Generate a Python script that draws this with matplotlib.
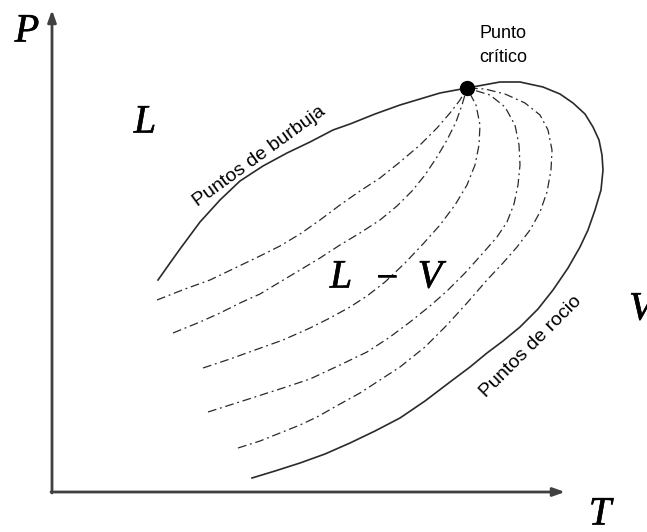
import matplotlib
matplotlib.use("Agg")
import matplotlib.pyplot as plt
import matplotlib.patheffects as pe

# Phase envelope (arbitrary units: T to the right, P upward)
bubble_T = [106, 118, 128, 148, 168, 188, 211, 235, 258, 281, 298, 323, 348, 368, 388, 415]
bubble_P = [212, 229, 243, 270, 292, 311, 326, 339, 350, 362, 368, 378, 387, 393, 399, 404]

dew_T = [415, 448, 468, 491, 508, 521, 533, 541, 547, 550, 551, 549, 543, 536, 528, 516, 501,
         486, 468, 451, 435, 418, 398, 373, 348, 323, 298, 273, 248, 223, 200]
dew_P = [404, 410, 410, 405, 398, 389, 378, 365, 352, 337, 322, 302, 282, 262, 245, 224, 202,
         183, 165, 151, 139, 125, 110, 91, 74, 61, 49, 38, 29, 21, 14]

# quality lines (dash-dot)
qA_T = [105, 133, 158, 183, 208, 228, 248, 268, 288, 308, 328, 348, 368, 385, 398, 408, 415]
qA_P = [192, 203, 212, 224, 236, 246, 258, 272, 287, 301, 314, 330, 347, 364, 379, 392, 404]
qB_T = [121, 148, 168, 188, 208, 228, 248, 268, 288, 308, 328, 345, 360, 373, 385, 395, 404, 410, 415]
qB_P = [159, 170, 179, 189, 198, 210, 222, 234, 247, 259, 272, 286, 301, 317, 335, 352, 370, 387, 404]
qC_T = [151, 178, 203, 231, 258, 278, 298, 315, 333, 353, 371, 388, 403, 415, 423, 427, 428, 424, 415]
qC_P = [124, 133, 142, 152, 164, 174, 185, 196, 210, 229, 248, 267, 287, 307, 327, 347, 367, 387, 404]
qD_T = [156, 178, 203, 231, 258, 288, 315, 338, 358, 378, 395, 413, 431, 445, 455, 462, 466, 468,
        467, 463, 453, 438, 415]
qD_P = [80, 87, 95, 104, 113, 127, 140, 155, 170, 186, 201, 219, 239, 255, 270, 288, 307, 327,
        347, 367, 385, 397, 404]
qE_T = [186, 208, 228, 248, 265, 288, 308, 328, 348, 373, 395, 415, 435, 451, 465, 478, 488, 495,
        499, 500, 496, 488, 473, 453, 433, 415]
qE_P = [44, 51, 59, 67, 75, 88, 99, 112, 125, 145, 167, 189, 212, 229, 245, 262, 280, 300,
        322, 342, 362, 377, 389, 398, 403, 404]
quality_lines = [(qA_T, qA_P), (qB_T, qB_P), (qC_T, qC_P), (qD_T, qD_P), (qE_T, qE_P)]

crit_T, crit_P = 415, 404

fig = plt.figure(figsize=(6.47, 5.32), dpi=100)
ax = fig.add_axes([0, 0, 1, 1])
ax.set_xlim(-52, 595)
ax.set_ylim(-40, 492)
ax.axis("off")

axis_col = "#404040"
curve_col = "#2a2a2a"

# axes arrows
ax.annotate("", xy=(513, 0), xytext=(-1, 0),
            arrowprops=dict(arrowstyle="-|>,head_length=0.7,head_width=0.25",
                            color=axis_col, lw=2.0, shrinkA=0, shrinkB=0))
ax.annotate("", xy=(0, 482), xytext=(0, -1),
            arrowprops=dict(arrowstyle="-|>,head_length=0.7,head_width=0.25",
                            color=axis_col, lw=2.0, shrinkA=0, shrinkB=0))

ax.plot(bubble_T, bubble_P, color=curve_col, lw=1.2, solid_joinstyle="round")
ax.plot(dew_T, dew_P, color=curve_col, lw=1.2, solid_joinstyle="round")
for t, p in quality_lines:
    ax.plot(t, p, color=curve_col, lw=0.9, linestyle=(0, (7, 3, 1.5, 3)))
ax.plot([crit_T], [crit_P], "o", color="black", ms=10, zorder=5)

sans = "Liberation Sans"
serif = "Liberation Serif"
ax.text(451, 458, "Punto", family=sans, fontsize=13, ha="center", va="center")
ax.text(451, 435, "crítico", family=sans, fontsize=13, ha="center", va="center")
ax.text(207, 336, "Puntos de burbuja", family=sans, fontsize=14, rotation=36,
        ha="center", va="center", rotation_mode="anchor")
ax.text(479, 145, "Puntos de rocio", family=sans, fontsize=14, rotation=45,
        ha="center", va="center", rotation_mode="anchor")

heavy = [pe.withStroke(linewidth=0.4, foreground="black")]
mf = dict(family=serif, style="italic", fontsize=29, ha="center", va="center",
          path_effects=heavy)
ax.text(-25, 460, "P", **mf)
ax.text(93, 369, "L", **mf)
ax.text(548, -23, "T", **mf)
ax.text(289, 214, "L", **mf)
ax.text(335, 212, "−", family=serif, fontsize=29, ha="center", va="center",
        path_effects=heavy)
ax.text(378, 214, "V", **mf)
ax.text(577, 182, "V", family=serif, style="italic", fontsize=29, ha="left", va="center",
        path_effects=heavy)

fig.savefig("out.png", dpi=100)
